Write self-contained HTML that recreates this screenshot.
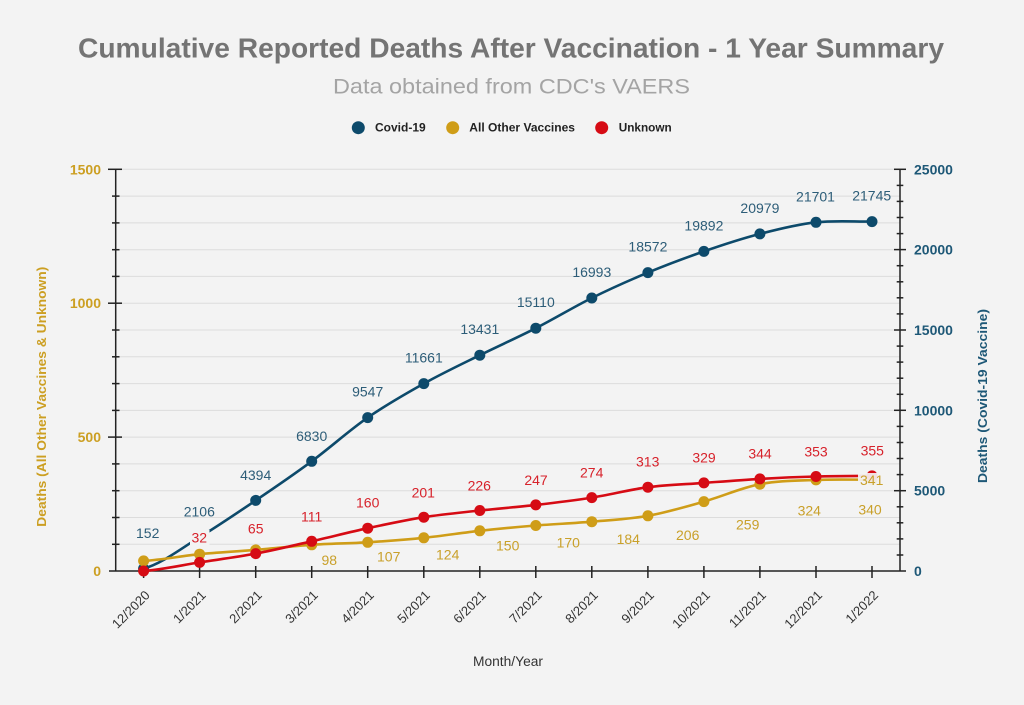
<!DOCTYPE html>
<html><head><meta charset="utf-8"><style>
html,body{margin:0;padding:0;background:#f3f3f3;}
svg{display:block;font-family:"Liberation Sans",Arial,sans-serif;}
</style></head><body>
<svg width="1024" height="705" viewBox="0 0 1024 705" xmlns="http://www.w3.org/2000/svg">
<rect width="1024" height="705" fill="#f3f3f3"/>
<!-- titles -->
<text x="511" y="57.5" text-anchor="middle" font-size="28" font-weight="bold" fill="#747474" textLength="866" lengthAdjust="spacingAndGlyphs">Cumulative Reported Deaths After Vaccination - 1 Year Summary</text>
<text x="511.5" y="93.5" text-anchor="middle" font-size="21" fill="#a4a4a4" textLength="357" lengthAdjust="spacingAndGlyphs">Data obtained from CDC's VAERS</text>
<!-- legend -->
<circle cx="358.3" cy="127.7" r="6.5" fill="#0d4a6b"/>
<text x="375" y="131.7" font-size="12" font-weight="bold" fill="#222" textLength="50.7" lengthAdjust="spacingAndGlyphs">Covid-19</text>
<circle cx="452.7" cy="127.7" r="6.5" fill="#cf9d18"/>
<text x="469.3" y="131.7" font-size="12" font-weight="bold" fill="#222" textLength="105.7" lengthAdjust="spacingAndGlyphs">All Other Vaccines</text>
<circle cx="601.7" cy="127.7" r="6.5" fill="#d60b14"/>
<text x="618.7" y="131.7" font-size="12" font-weight="bold" fill="#222" textLength="53" lengthAdjust="spacingAndGlyphs">Unknown</text>
<!-- gridlines -->
<g stroke="#dcdcdc" stroke-width="1">
<line x1="116" x2="900" y1="169.3" y2="169.3"/><line x1="116" x2="900" y1="196.1" y2="196.1"/><line x1="116" x2="900" y1="222.9" y2="222.9"/><line x1="116" x2="900" y1="249.7" y2="249.7"/><line x1="116" x2="900" y1="276.4" y2="276.4"/><line x1="116" x2="900" y1="303.2" y2="303.2"/><line x1="116" x2="900" y1="330" y2="330"/><line x1="116" x2="900" y1="356.8" y2="356.8"/><line x1="116" x2="900" y1="383.6" y2="383.6"/><line x1="116" x2="900" y1="410.4" y2="410.4"/><line x1="116" x2="900" y1="437.1" y2="437.1"/><line x1="116" x2="900" y1="463.9" y2="463.9"/><line x1="116" x2="900" y1="490.7" y2="490.7"/><line x1="116" x2="900" y1="517.5" y2="517.5"/><line x1="116" x2="900" y1="544.3" y2="544.3"/>
</g>
<!-- axes -->
<g stroke="#222" stroke-width="1.5" fill="none">
<line x1="115.7" y1="169.3" x2="115.7" y2="571"/>
<line x1="900" y1="169.3" x2="900" y2="571"/>
<line x1="109" y1="571" x2="906" y2="571"/>
<!-- left major ticks -->
<line x1="108" x2="122" y1="169.3" y2="169.3"/><line x1="108" x2="122" y1="303.2" y2="303.2"/><line x1="108" x2="122" y1="437.1" y2="437.1"/>
<!-- left minor ticks -->
<line x1="112" x2="119.5" y1="196.1" y2="196.1"/><line x1="112" x2="119.5" y1="222.9" y2="222.9"/><line x1="112" x2="119.5" y1="249.7" y2="249.7"/><line x1="112" x2="119.5" y1="276.4" y2="276.4"/><line x1="112" x2="119.5" y1="330" y2="330"/><line x1="112" x2="119.5" y1="356.8" y2="356.8"/><line x1="112" x2="119.5" y1="383.6" y2="383.6"/><line x1="112" x2="119.5" y1="410.4" y2="410.4"/><line x1="112" x2="119.5" y1="463.9" y2="463.9"/><line x1="112" x2="119.5" y1="490.7" y2="490.7"/><line x1="112" x2="119.5" y1="517.5" y2="517.5"/><line x1="112" x2="119.5" y1="544.3" y2="544.3"/>
<!-- right major ticks -->
<line x1="894" x2="906" y1="169.3" y2="169.3"/><line x1="894" x2="906" y1="249.6" y2="249.6"/><line x1="894" x2="906" y1="330" y2="330"/><line x1="894" x2="906" y1="410.3" y2="410.3"/><line x1="894" x2="906" y1="490.7" y2="490.7"/>
<!-- right minor ticks -->
<line x1="896.7" x2="903.3" y1="185.4" y2="185.4"/><line x1="896.7" x2="903.3" y1="201.4" y2="201.4"/><line x1="896.7" x2="903.3" y1="217.5" y2="217.5"/><line x1="896.7" x2="903.3" y1="233.6" y2="233.6"/>
<line x1="896.7" x2="903.3" y1="265.7" y2="265.7"/><line x1="896.7" x2="903.3" y1="281.8" y2="281.8"/><line x1="896.7" x2="903.3" y1="297.8" y2="297.8"/><line x1="896.7" x2="903.3" y1="313.9" y2="313.9"/>
<line x1="896.7" x2="903.3" y1="346.1" y2="346.1"/><line x1="896.7" x2="903.3" y1="362.1" y2="362.1"/><line x1="896.7" x2="903.3" y1="378.2" y2="378.2"/><line x1="896.7" x2="903.3" y1="394.3" y2="394.3"/>
<line x1="896.7" x2="903.3" y1="426.4" y2="426.4"/><line x1="896.7" x2="903.3" y1="442.5" y2="442.5"/><line x1="896.7" x2="903.3" y1="458.5" y2="458.5"/><line x1="896.7" x2="903.3" y1="474.6" y2="474.6"/>
<line x1="896.7" x2="903.3" y1="506.8" y2="506.8"/><line x1="896.7" x2="903.3" y1="522.8" y2="522.8"/><line x1="896.7" x2="903.3" y1="538.9" y2="538.9"/><line x1="896.7" x2="903.3" y1="555" y2="555"/>
<!-- x ticks -->
<line x1="143.6" x2="143.6" y1="566" y2="578"/><line x1="199.6" x2="199.6" y1="566" y2="578"/><line x1="255.7" x2="255.7" y1="566" y2="578"/><line x1="311.7" x2="311.7" y1="566" y2="578"/><line x1="367.7" x2="367.7" y1="566" y2="578"/><line x1="423.8" x2="423.8" y1="566" y2="578"/><line x1="479.8" x2="479.8" y1="566" y2="578"/><line x1="535.8" x2="535.8" y1="566" y2="578"/><line x1="591.8" x2="591.8" y1="566" y2="578"/><line x1="647.9" x2="647.9" y1="566" y2="578"/><line x1="703.9" x2="703.9" y1="566" y2="578"/><line x1="759.9" x2="759.9" y1="566" y2="578"/><line x1="816" x2="816" y1="566" y2="578"/><line x1="872" x2="872" y1="566" y2="578"/>
</g>
<!-- left tick labels -->
<g font-size="14" font-weight="bold" fill="#cc9f22" text-anchor="end">
<text x="101" y="174.3">1500</text><text x="101" y="308.2">1000</text><text x="101" y="442.1">500</text><text x="101" y="576">0</text>
</g>
<!-- right tick labels -->
<g font-size="14" font-weight="bold" fill="#1e5877">
<text x="914" y="174.3">25000</text><text x="914" y="254.6">20000</text><text x="914" y="335">15000</text><text x="914" y="415.3">10000</text><text x="914" y="495.7">5000</text><text x="914" y="576">0</text>
</g>
<!-- axis titles -->
<text transform="translate(46.2,396.7) rotate(-90)" text-anchor="middle" font-size="13" font-weight="bold" fill="#cc9f22" textLength="260" lengthAdjust="spacingAndGlyphs">Deaths (All Other Vaccines &amp; Unknown)</text>
<text transform="translate(986.8,396) rotate(-90)" text-anchor="middle" font-size="13" font-weight="bold" fill="#1e5877" textLength="174" lengthAdjust="spacingAndGlyphs">Deaths (Covid-19 Vaccine)</text>
<text x="508" y="666" text-anchor="middle" font-size="13.5" fill="#333" textLength="70" lengthAdjust="spacingAndGlyphs">Month/Year</text>
<!-- x labels -->
<g font-size="13" fill="#333" text-anchor="end">
<text transform="translate(150.6,596) rotate(-45)">12/2020</text>
<text transform="translate(206.6,596) rotate(-45)">1/2021</text>
<text transform="translate(262.7,596) rotate(-45)">2/2021</text>
<text transform="translate(318.7,596) rotate(-45)">3/2021</text>
<text transform="translate(374.7,596) rotate(-45)">4/2021</text>
<text transform="translate(430.8,596) rotate(-45)">5/2021</text>
<text transform="translate(486.8,596) rotate(-45)">6/2021</text>
<text transform="translate(542.8,596) rotate(-45)">7/2021</text>
<text transform="translate(598.8,596) rotate(-45)">8/2021</text>
<text transform="translate(654.9,596) rotate(-45)">9/2021</text>
<text transform="translate(710.9,596) rotate(-45)">10/2021</text>
<text transform="translate(766.9,596) rotate(-45)">11/2021</text>
<text transform="translate(823,596) rotate(-45)">12/2021</text>
<text transform="translate(879,596) rotate(-45)">1/2022</text>
</g>
<!-- covid series -->
<path fill="none" stroke="#0d4a6b" stroke-width="2.6" d="M143.6,568.6 C162.3,563.4 180.9,548.6 199.6,537.2 C218.3,525.8 237.0,513.1 255.7,500.4 C274.4,487.8 293.0,475.1 311.7,461.3 C330.4,447.5 349.0,430.6 367.7,417.6 C386.4,404.7 405.1,394.0 423.8,383.6 C442.5,373.2 461.1,364.4 479.8,355.2 C498.5,346.0 517.1,337.7 535.8,328.2 C554.5,318.7 573.1,307.3 591.8,298.0 C610.5,288.7 629.2,280.4 647.9,272.6 C666.6,264.8 685.2,257.9 703.9,251.4 C722.6,244.9 741.2,238.8 759.9,233.9 C778.6,229.0 797.3,224.4 816.0,222.3 C834.7,220.3 853.3,221.7 872.0,221.6"/>
<g fill="#0d4a6b">
<circle cx="143.6" cy="568.6" r="5.5"/><circle cx="199.6" cy="537.2" r="5.5"/><circle cx="255.7" cy="500.4" r="5.5"/><circle cx="311.7" cy="461.3" r="5.5"/><circle cx="367.7" cy="417.6" r="5.5"/><circle cx="423.8" cy="383.6" r="5.5"/><circle cx="479.8" cy="355.2" r="5.5"/><circle cx="535.8" cy="328.2" r="5.5"/><circle cx="591.8" cy="298" r="5.5"/><circle cx="647.9" cy="272.6" r="5.5"/><circle cx="703.9" cy="251.4" r="5.5"/><circle cx="759.9" cy="233.9" r="5.5"/><circle cx="816" cy="222.3" r="5.5"/><circle cx="872" cy="221.6" r="5.5"/>
</g>
<!-- yellow series -->
<path fill="none" stroke="#cf9d18" stroke-width="2.6" d="M143.6,560.9 C162.3,559.8 180.9,556.0 199.6,554.2 C218.3,552.4 237.0,551.5 255.7,549.9 C274.4,548.3 293.0,546.1 311.7,544.8 C330.4,543.5 349.0,543.5 367.7,542.3 C386.4,541.1 405.1,539.7 423.8,537.8 C442.5,535.9 461.1,532.9 479.8,530.8 C498.5,528.8 517.1,527.0 535.8,525.5 C554.5,524.0 573.1,523.3 591.8,521.7 C610.5,520.1 629.2,519.2 647.9,515.8 C666.6,512.5 685.2,506.9 703.9,501.6 C722.6,496.3 741.2,487.8 759.9,484.2 C778.6,480.6 797.3,480.7 816.0,479.9 C834.7,479.2 853.3,479.7 872.0,479.7"/>
<g fill="#cf9d18">
<circle cx="143.6" cy="560.9" r="5.5"/><circle cx="199.6" cy="554.2" r="5.5"/><circle cx="255.7" cy="549.9" r="5.5"/><circle cx="311.7" cy="544.8" r="5.5"/><circle cx="367.7" cy="542.3" r="5.5"/><circle cx="423.8" cy="537.8" r="5.5"/><circle cx="479.8" cy="530.8" r="5.5"/><circle cx="535.8" cy="525.5" r="5.5"/><circle cx="591.8" cy="521.7" r="5.5"/><circle cx="647.9" cy="515.8" r="5.5"/><circle cx="703.9" cy="501.6" r="5.5"/><circle cx="759.9" cy="484.2" r="5.5"/><circle cx="816" cy="479.9" r="5.5"/><circle cx="872" cy="479.7" r="5.5"/>
</g>
<!-- red series -->
<path fill="none" stroke="#d60b14" stroke-width="2.6" d="M143.6,571.0 C162.3,569.6 180.9,565.3 199.6,562.4 C218.3,559.5 237.0,557.1 255.7,553.6 C274.4,550.1 293.0,545.5 311.7,541.3 C330.4,537.1 349.0,532.2 367.7,528.2 C386.4,524.2 405.1,520.2 423.8,517.2 C442.5,514.3 461.1,512.6 479.8,510.5 C498.5,508.5 517.1,507.1 535.8,504.9 C554.5,502.8 573.1,500.6 591.8,497.6 C610.5,494.7 629.2,489.7 647.9,487.2 C666.6,484.8 685.2,484.3 703.9,482.9 C722.6,481.5 741.2,480.0 759.9,478.9 C778.6,477.8 797.3,477.0 816.0,476.5 C834.7,476.0 853.3,476.0 872.0,475.9"/>
<g fill="#d60b14">
<circle cx="143.6" cy="571" r="5.5"/><circle cx="199.6" cy="562.4" r="5.5"/><circle cx="255.7" cy="553.6" r="5.5"/><circle cx="311.7" cy="541.3" r="5.5"/><circle cx="367.7" cy="528.2" r="5.5"/><circle cx="423.8" cy="517.2" r="5.5"/><circle cx="479.8" cy="510.5" r="5.5"/><circle cx="535.8" cy="504.9" r="5.5"/><circle cx="591.8" cy="497.6" r="5.5"/><circle cx="647.9" cy="487.2" r="5.5"/><circle cx="703.9" cy="482.9" r="5.5"/><circle cx="759.9" cy="478.9" r="5.5"/><circle cx="816" cy="476.5" r="5.5"/><circle cx="872" cy="475.9" r="5.5"/>
</g>
<!-- label backgrounds -->
<rect x="190" y="530" width="19.5" height="15" fill="#f3f3f3"/>
<rect x="858" y="473" width="28" height="16" fill="#f3f3f3" fill-opacity="0.92"/>
<!-- covid labels -->
<g font-size="14" fill="#2d5d78" text-anchor="middle">
<text x="147.7" y="537.8">152</text><text x="199.3" y="516.7">2106</text><text x="255.7" y="480">4394</text><text x="311.7" y="441">6830</text><text x="367.7" y="396.6">9547</text><text x="423.8" y="362.6">11661</text><text x="479.8" y="334.2">13431</text><text x="535.8" y="307.2">15110</text><text x="591.8" y="277">16993</text><text x="647.9" y="251.6">18572</text><text x="703.9" y="230.4">19892</text><text x="759.9" y="212.9">20979</text><text x="815.5" y="201.5">21701</text><text x="871.7" y="200.6">21745</text>
</g>
<!-- red labels -->
<g font-size="14" fill="#d7222b" text-anchor="middle">
<text x="199.3" y="542.3">32</text><text x="255.7" y="533.3">65</text><text x="311.7" y="521.7">111</text><text x="367.7" y="507.7">160</text><text x="423.3" y="497.3">201</text><text x="479.3" y="490.7">226</text><text x="536" y="485">247</text><text x="591.7" y="477.7">274</text><text x="647.7" y="466.7">313</text><text x="704" y="462.7">329</text><text x="760" y="458.3">344</text><text x="816" y="456.5">353</text><text x="872.3" y="455.7">355</text>
</g>
<!-- yellow labels -->
<g font-size="14" fill="#c9a02a" text-anchor="middle">
<text x="329.3" y="565">98</text><text x="388.7" y="561.7">107</text><text x="447.7" y="559.3">124</text><text x="507.7" y="550.3">150</text><text x="568.3" y="547.7">170</text><text x="628.3" y="544">184</text><text x="687.7" y="540">206</text><text x="747.7" y="529.3">259</text><text x="809.3" y="515.7">324</text><text x="870" y="514.3">340</text><text x="871.7" y="485">341</text>
</g>
</svg>
</body></html>
